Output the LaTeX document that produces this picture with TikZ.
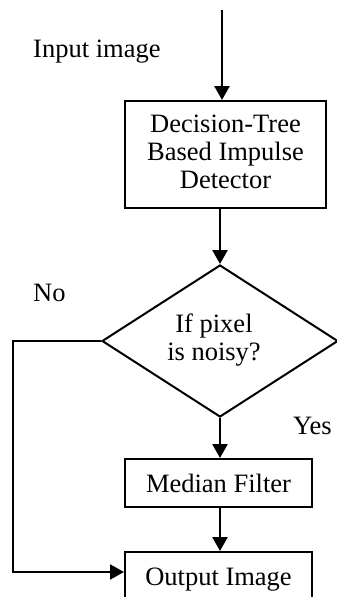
\documentclass[tikz,border=0pt]{standalone}
\usepackage{fontspec}
\setmainfont{Liberation Serif}
\usetikzlibrary{arrows.meta,shapes.geometric}

\tikzset{
  txt/.style={font=\fontsize{26.5pt}{28pt}\selectfont, inner sep=0pt},
  box/.style={txt, draw, line width=2pt, align=center},
  decision/.style={txt, draw, line width=2pt, shape=diamond, align=center,
    minimum width=236pt, minimum height=152pt},
  arr/.style={line width=2.6pt, -{Triangle[length=14pt,width=15pt]}},
  link/.style={line width=2pt, -{Triangle[length=14pt,width=15pt]}}
}

\begin{document}
\begin{tikzpicture}[x=1pt, y=-1pt]
  \useasboundingbox (0,0) rectangle (337,597);

  % process blocks
  \node[box, minimum width=201pt, minimum height=107pt] (det) at (225.5,154.5)
    {\raisebox{-6.5pt}{\begin{tabular}{@{}c@{}}Decision-Tree\\Based Impulse\\Detector\end{tabular}}};
  \node[decision] (dec) at (220,341) {\hspace*{-12pt}\begin{tabular}{@{}c@{}}If pixel\\is noisy?\end{tabular}};
  \node[box, minimum width=187pt, minimum height=48pt] (med) at (218.5,483) {Median Filter};
  \node[box, minimum width=187pt, minimum height=56pt] (out) at (218.5,580) {Output Image};

  % labels
  \node[txt, anchor=west] (inlbl) at (33,52) {Input image};
  \node[txt, anchor=west] (nolbl) at (33,293) {No};
  \node[txt, anchor=west] (yeslbl) at (293,426) {Yes};

  % connectors
  \coordinate (src) at (222,10);
  \coordinate (loop) at (13,572);
  \draw[arr] (src) -- (src |- det.north);
  \draw[arr] (dec.north |- det.south) -- (dec.north);
  \draw[arr] (dec.south) -- (dec.south |- med.north);
  \draw[arr] (dec.south |- med.south) -- (dec.south |- out.north);
  \draw[link] (dec.west) -| (loop) -- (loop -| out.west);
\end{tikzpicture}
\end{document}
